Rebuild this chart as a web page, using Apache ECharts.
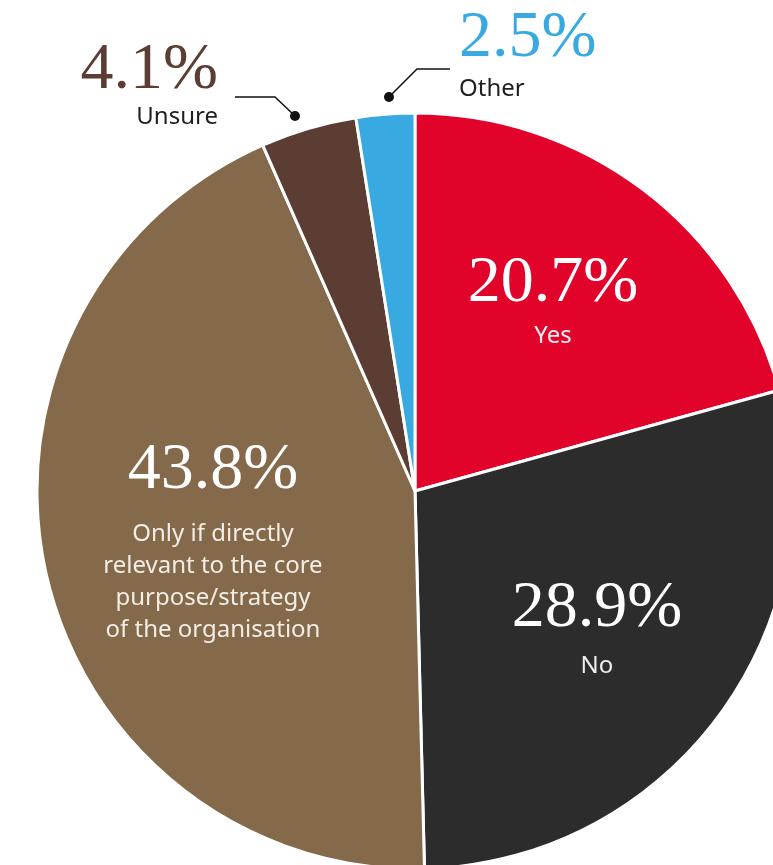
<!DOCTYPE html>
<html>
<head>
<meta charset="utf-8">
<script src="https://cdn.jsdelivr.net/npm/echarts@6/dist/echarts.min.js"></script>
<style>
  html, body { margin: 0; padding: 0; background: #ffffff; }
  #chart { width: 773px; height: 865px; }
</style>
</head>
<body>
<div id="chart"></div>
<script>
// Survey answers, clockwise from twelve o'clock
const categories = [
  'Yes',
  'No',
  'Only if directly\nrelevant to the core\npurpose/strategy\nof the organisation',
  'Unsure',
  'Other'
];
const shares = [20.7, 28.9, 43.8, 4.1, 2.5];

const sliceColors = ['#e2032a', '#2d2c2c', '#84694b', '#5c3d34', '#38a9e1'];
// colour of the big percentage figure for each slice
const figureColors = ['#ffffff', '#ffffff', '#ffffff', '#5c3d34', '#38a9e1'];
const captionColors = ['#f6eef0', '#eeeeee', '#f3ede6', '#1f1f1f', '#1f1f1f'];

// where each label block starts (x, top, align), the figure's line height,
// and, for outside labels, the leader line
const labelSpots = [
  { x: 553, y: 248, align: 'center', lh: 72 },
  { x: 597, y: 568, align: 'center', lh: 82 },
  { x: 213, y: 424, align: 'center', lh: 94 },
  { x: 218, y: 40, align: 'right', lh: 61, line: [[295, 116], [275, 97], [235, 97]] },
  { x: 459, y: 4, align: 'left', lh: 69, line: [[389, 97], [417, 69], [450, 69]] }
];

const chart = echarts.init(document.getElementById('chart'), null, { renderer: 'canvas' });

const data = categories.map((name, i) => ({
  name: name,
  value: shares[i],
  itemStyle: { color: sliceColors[i] },
  label: {
    rich: {
      p: {
        color: figureColors[i],
        fontFamily: '"Liberation Serif", serif',
        fontSize: 66,
        lineHeight: labelSpots[i].lh
      },
      t: {
        color: captionColors[i],
        fontFamily: '"Noto Sans", sans-serif',
        fontSize: 24,
        lineHeight: 32
      }
    }
  },
  labelLine: { show: !!labelSpots[i].line }
}));

chart.setOption({
  backgroundColor: '#ffffff',
  animation: false,
  series: [{
    type: 'pie',
    center: [415, 491],
    radius: [0, 378],
    startAngle: 90,
    clockwise: true,
    avoidLabelOverlap: false,
    data: data,
    itemStyle: { borderColor: '#ffffff', borderWidth: 3 },
    label: {
      show: true,
      position: 'outside',
      formatter: (p) => {
        const lines = p.name.split('\n').map(s => '{t|' + s + '}').join('\n');
        return '{p|' + p.value.toFixed(1) + '%}\n' + lines;
      }
    },
    labelLine: {
      show: true,
      lineStyle: { color: '#111111', width: 1.5 }
    },
    labelLayout: (params) => {
      const spot = labelSpots[params.dataIndex];
      const out = {
        x: spot.x,
        y: spot.y,
        align: spot.align,
        verticalAlign: 'top',
        hideOverlap: false
      };
      if (spot.line) out.labelLinePoints = spot.line;
      return out;
    }
  }],
  graphic: labelSpots.filter(s => s.line).map(s => ({
    type: 'circle',
    shape: { cx: s.line[0][0], cy: s.line[0][1], r: 5 },
    style: { fill: '#111111' },
    z: 100
  }))
});
</script>
</body>
</html>
